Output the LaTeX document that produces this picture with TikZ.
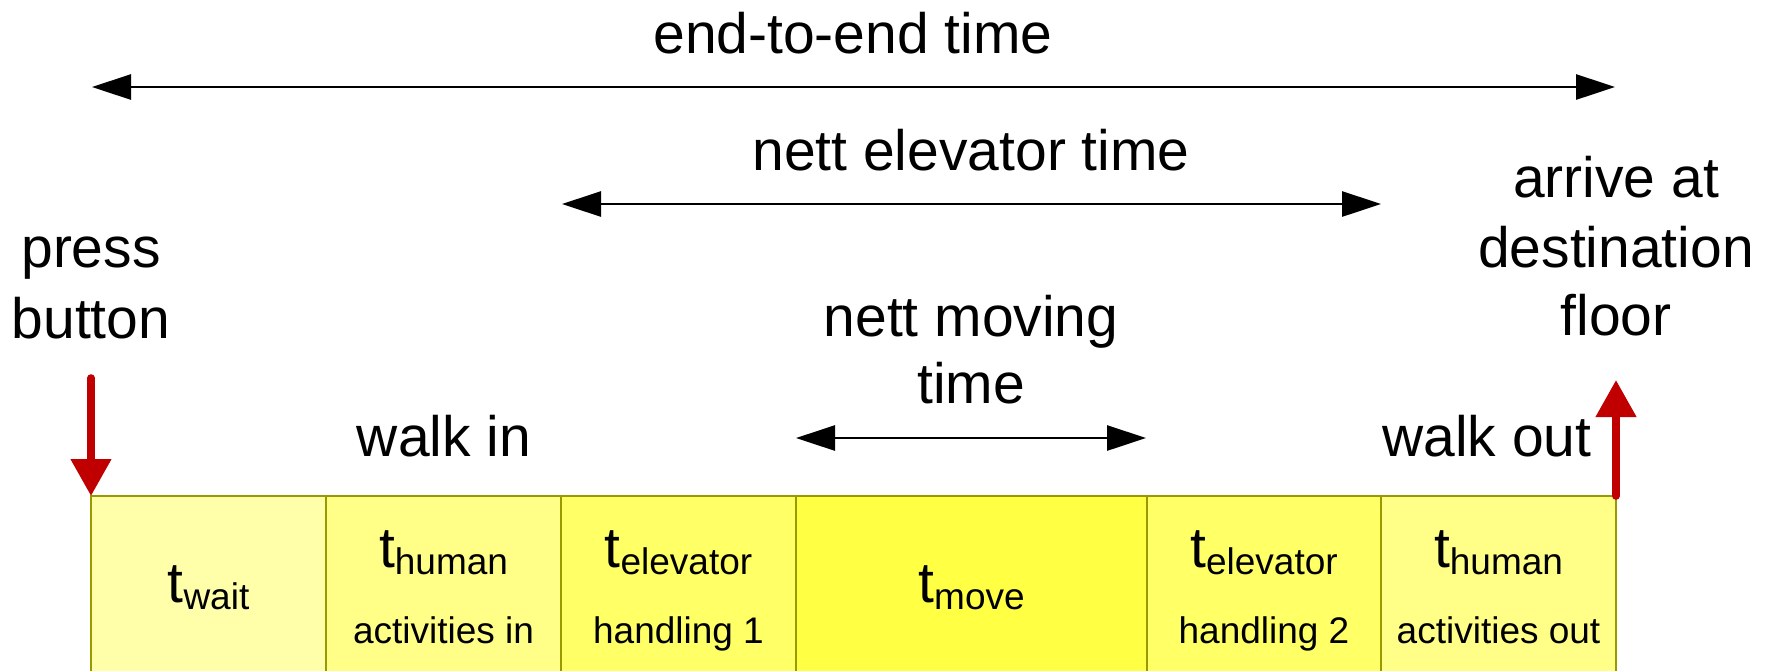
\documentclass[tikz,border=0pt]{standalone}
\usepackage{fontspec}
\setmainfont{Liberation Sans}
\usetikzlibrary{arrows.meta}
\definecolor{boxline}{HTML}{999900}
\definecolor{fillA}{HTML}{FFFFAA}
\definecolor{fillB}{HTML}{FFFF88}
\definecolor{fillC}{HTML}{FFFF66}
\definecolor{fillD}{HTML}{FFFF44}
\definecolor{redarr}{HTML}{C00000}
\newcommand{\bigf}{\fontsize{28.5}{34.5}\selectfont}
\newcommand{\smf}{\fontsize{18.5}{22}\selectfont}
\newcommand{\tsub}[1]{t\raisebox{-3.5pt}{\smf #1}}
\begin{document}
\begin{tikzpicture}[x=0.5pt,y=-0.5pt,
  lbl/.style={anchor=base, inner sep=0pt, font=\bigf},
  sublbl/.style={anchor=base, inner sep=0pt, font=\smf},
  seg/.style={draw=boxline, line width=1pt, anchor=north west, minimum height=110pt, inner sep=0pt, outer sep=0pt},
  dimarrow/.style={draw=black, line width=1.4pt, {Triangle[length=19.5pt,width=12.5pt]}-{Triangle[length=19.5pt,width=12.5pt]}},
  evarrow/.style={draw=redarr, line width=3.8pt, line cap=round, -{Triangle[length=18.5pt,width=19.5pt]}}]
\clip (0,0) rectangle (1775,670);
\fill[white] (0,0) rectangle (1775,670);

% segments
\node[seg, fill=fillA, minimum width=117.5pt] (bwait) at (91,496) {};
\node[seg, fill=fillB, minimum width=117.5pt] (bhin) at (326,496) {};
\node[seg, fill=fillC, minimum width=117.5pt] (bel1) at (561,496) {};
\node[seg, fill=fillD, minimum width=175.5pt] (bmove) at (796,496) {};
\node[seg, fill=fillC, minimum width=117pt] (bel2) at (1147,496) {};
\node[seg, fill=fillB, minimum width=117.5pt] (bhout) at (1381,496) {};

% segment texts
\node[lbl] (twait) at (208.5,602) {\tsub{wait}};
\node[lbl] (thin) at (443.5,567.5) {\tsub{human}};
\node[sublbl] (thin2) at (443.5,643) {activities in};
\node[lbl] (tel1) at (678.5,567.5) {\tsub{elevator}};
\node[sublbl] (tel1b) at (678.5,643) {handling 1};
\node[lbl] (tmove) at (971.5,602) {\tsub{move}};
\node[lbl] (tel2) at (1264,567.5) {\tsub{elevator}};
\node[sublbl] (tel2b) at (1264,643) {handling 2};
\node[lbl] (thout) at (1498.5,567.5) {\tsub{human}};
\node[sublbl] (thout2) at (1498.5,643) {activities out};

% labels
\node[lbl] (e2e) at (853,53) {end-to-end time};
\node[lbl] (net) at (971,170) {nett elevator time};
\node[lbl] (nmv1) at (971,336) {nett moving};
\node[lbl] (nmv2) at (971,403) {time};
\node[lbl] (pb1) at (91,267) {press};
\node[lbl] (pb2) at (91,338) {button};
\node[lbl] (ad1) at (1616,197) {arrive at};
\node[lbl] (ad2) at (1616,267) {destination};
\node[lbl] (ad3) at (1616,335) {floor};
\node[lbl] (win) at (444,456) {walk in};
\node[lbl] (wout) at (1487,456) {walk out};

% dimension arrows
\coordinate (a1l) at (92,87);
\coordinate (a1r) at (1615,87);
\coordinate (a2l) at (562,204);
\coordinate (a2r) at (1381,204);
\coordinate (a3l) at (796,438);
\coordinate (a3r) at (1146,438);
\draw[dimarrow] (a1l) -- (a1r);
\draw[dimarrow] (a2l) -- (a2r);
\draw[dimarrow] (a3l) -- (a3r);

% event arrows
\coordinate (pbtail) at (91,378);
\coordinate (adtip) at (1616,380);
\draw[evarrow] (pbtail) -- (bwait.north west);
\draw[evarrow] (bhout.north east) -- (adtip);
\end{tikzpicture}
\end{document}
